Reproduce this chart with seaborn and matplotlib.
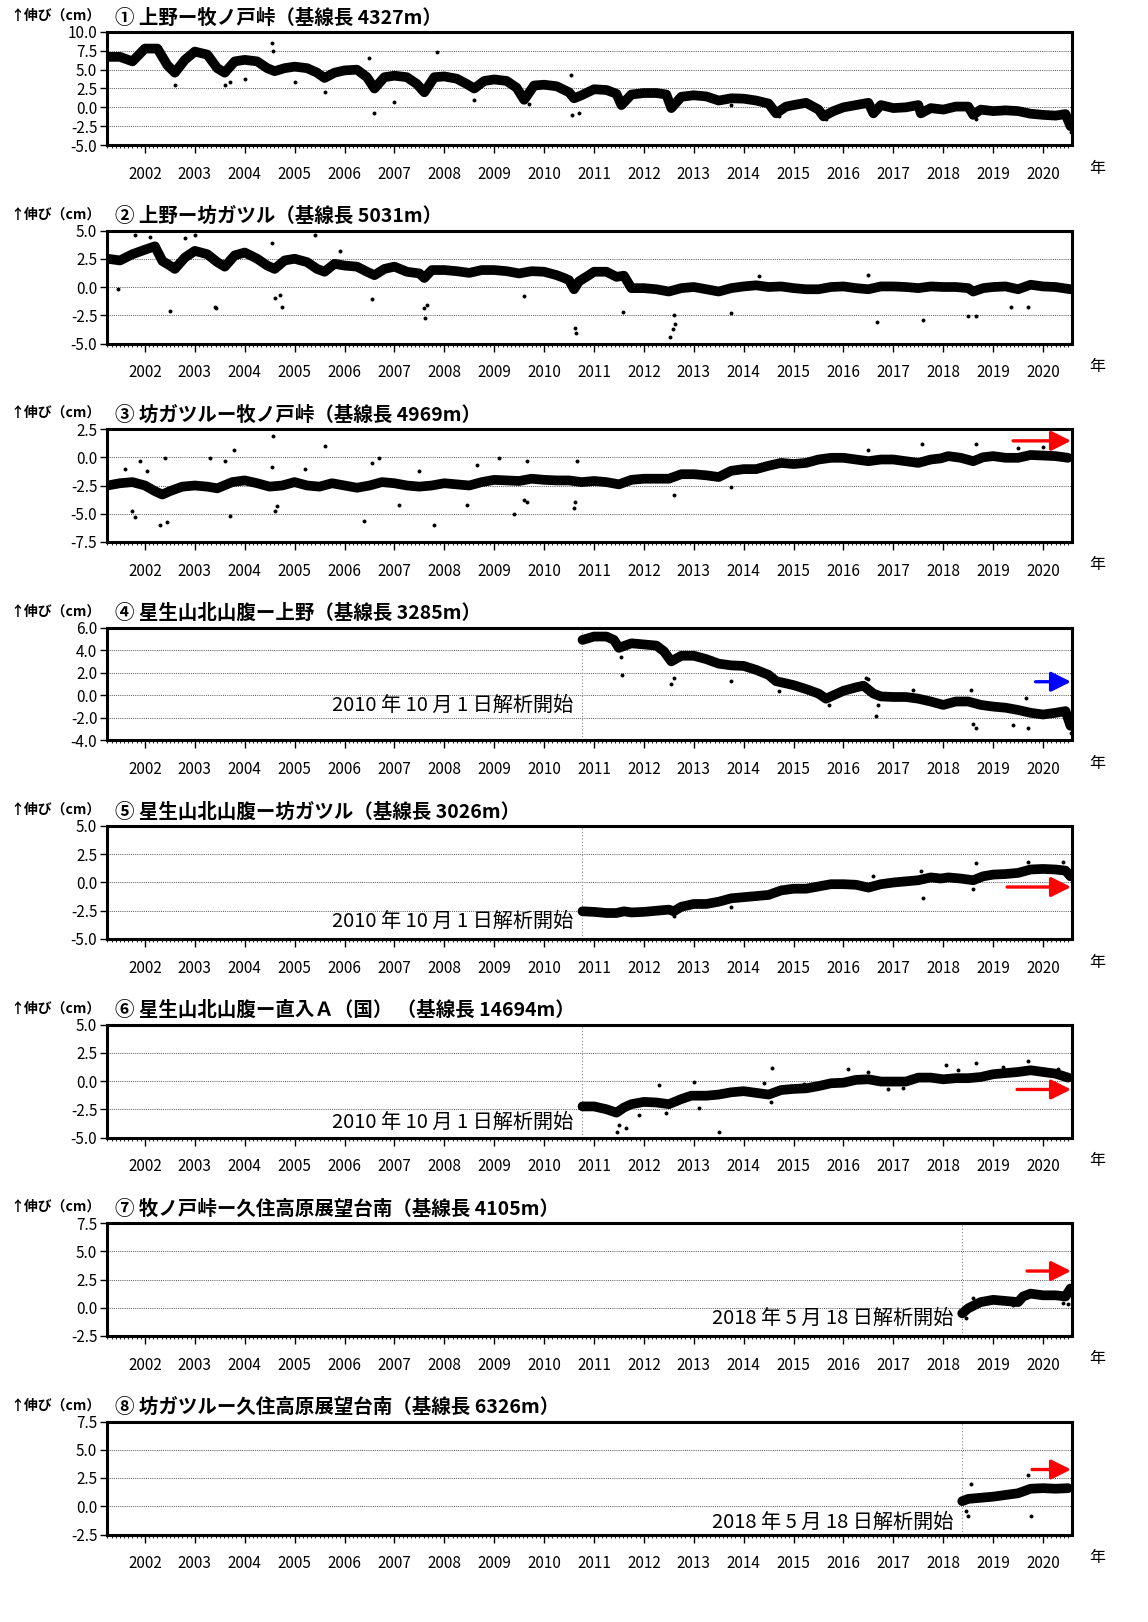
import numpy as np
import pandas as pd
import matplotlib
matplotlib.use("Agg")
import matplotlib.pyplot as plt
from matplotlib.ticker import MultipleLocator, FixedLocator, FormatStrFormatter
import seaborn as sns

sns.set_theme(style="white")
plt.rcParams['font.family'] = ['Noto Sans CJK JP', 'DejaVu Sans']

# ---------------- data (decimal year, extension cm) ----------------
t1 = [2001.25, 2001.5, 2001.75, 2002.0, 2002.25, 2002.45, 2002.6, 2002.8, 2003.0, 2003.25, 2003.45, 2003.6, 2003.8,
      2004.0, 2004.25, 2004.45, 2004.6, 2004.8, 2005.0, 2005.25, 2005.45, 2005.6, 2005.8, 2006.0, 2006.25, 2006.45,
      2006.6, 2006.8, 2007.0, 2007.25, 2007.45, 2007.6, 2007.8, 2008.0, 2008.25, 2008.45, 2008.6, 2008.8, 2009.0,
      2009.25, 2009.45, 2009.6, 2009.8, 2010.0, 2010.25, 2010.5, 2010.6, 2010.75, 2011.0, 2011.25, 2011.45, 2011.55,
      2011.75, 2012.0, 2012.25, 2012.45, 2012.55, 2012.75, 2013.0, 2013.25, 2013.5, 2013.75, 2014.0, 2014.25, 2014.5,
      2014.65, 2014.85, 2015.0, 2015.25, 2015.5, 2015.6, 2015.8, 2016.0, 2016.25, 2016.5, 2016.6, 2016.75, 2017.0,
      2017.25, 2017.5, 2017.55, 2017.75, 2018.0, 2018.25, 2018.5, 2018.6, 2018.75, 2019.0, 2019.25, 2019.5, 2019.75,
      2020.0, 2020.25, 2020.45, 2020.55]
v1 = [6.7, 6.7, 6.1, 7.8, 7.8, 5.6, 4.6, 6.3, 7.4, 7.0, 5.2, 4.6, 6.1,
      6.3, 6.1, 5.2, 4.8, 5.2, 5.4, 5.2, 4.6, 3.9, 4.6, 4.9, 5.0, 4.0,
      2.5, 4.0, 4.2, 4.0, 3.1, 2.0, 4.0, 4.1, 3.8, 3.1, 2.5, 3.5, 3.7,
      3.5, 2.6, 1.0, 2.9, 3.0, 2.8, 2.0, 1.2, 1.6, 2.4, 2.3, 1.8, 0.3,
      1.7, 1.9, 1.9, 1.7, -0.1, 1.4, 1.6, 1.45, 0.9, 1.2, 1.15, 0.9, 0.5,
      -0.8, 0.1, 0.3, 0.6, -0.3, -1.2, -0.5, 0.0, 0.3, 0.6, -0.8, 0.3, -0.1,
      0.0, 0.3, -0.8, -0.1, -0.3, 0.1, 0.1, -1.0, -0.3, -0.5, -0.4, -0.5, -0.85,
      -1.0, -1.1, -0.9, -2.5]
o1_t = [2004.55, 2004.56, 2007.85, 2006.5, 2006.6, 2007.0, 2010.55, 2010.7, 2010.54, 2003.6, 2004.0, 2005.0,
        2005.6, 2008.6, 2009.7, 2002.6, 2003.7, 2013.75, 2014.7, 2015.65, 2018.65, 2020.55]
o1_v = [8.6, 7.5, 7.4, 6.5, -0.7, 0.7, -1.0, -0.8, 4.3, 3.0, 3.8, 3.3,
        2.0, 1.0, 0.5, 3.0, 3.4, 0.3, -1.2, -1.6, -1.5, -3.3]

t2 = [2001.25, 2001.5, 2001.75, 2002.0, 2002.2, 2002.35, 2002.5, 2002.6, 2002.8, 2003.0, 2003.25, 2003.45, 2003.6,
      2003.8, 2004.0, 2004.25, 2004.45, 2004.6, 2004.8, 2005.0, 2005.25, 2005.45, 2005.6, 2005.8, 2006.0, 2006.25,
      2006.45, 2006.6, 2006.8, 2007.0, 2007.25, 2007.5, 2007.6, 2007.75, 2008.0, 2008.25, 2008.5, 2008.75, 2009.0,
      2009.25, 2009.5, 2009.75, 2010.0, 2010.25, 2010.4, 2010.5, 2010.6, 2010.7, 2010.9, 2011.0, 2011.25, 2011.45,
      2011.6, 2011.75, 2012.0, 2012.25, 2012.5, 2012.75, 2013.0, 2013.25, 2013.5, 2013.75, 2014.0, 2014.25, 2014.5,
      2014.75, 2015.0, 2015.25, 2015.5, 2015.75, 2016.0, 2016.25, 2016.5, 2016.75, 2017.0, 2017.25, 2017.5, 2017.75,
      2018.0, 2018.25, 2018.5, 2018.6, 2018.8, 2019.0, 2019.25, 2019.5, 2019.75, 2020.0, 2020.25, 2020.55]
v2 = [2.5, 2.35, 2.9, 3.3, 3.6, 2.3, 1.9, 1.6, 2.6, 3.2, 2.9, 2.2, 1.8,
      2.8, 3.05, 2.5, 1.9, 1.6, 2.35, 2.5, 2.2, 1.6, 1.35, 2.05, 1.9, 1.8,
      1.35, 1.05, 1.6, 1.8, 1.35, 1.2, 0.8, 1.5, 1.5, 1.4, 1.25, 1.5, 1.5,
      1.4, 1.2, 1.4, 1.35, 1.05, 0.8, 0.6, -0.2, 0.5, 1.05, 1.35, 1.35, 0.9,
      1.0, -0.1, -0.1, -0.2, -0.4, -0.1, 0.0, -0.2, -0.4, -0.1, 0.05, 0.15, 0.0,
      0.05, -0.1, -0.2, -0.2, 0.0, 0.05, -0.1, -0.2, 0.05, 0.05, 0.0, -0.1, 0.05,
      0.0, 0.0, -0.1, -0.4, -0.1, 0.0, 0.05, -0.2, 0.2, 0.05, 0.0, -0.2]
o2_t = [2001.47, 2002.5, 2003.4, 2003.42, 2004.75, 2004.6, 2004.7, 2006.55, 2007.6, 2007.62, 2007.65, 2009.6,
        2010.64, 2010.62, 2011.58, 2012.53, 2012.59, 2012.63, 2012.61, 2013.75, 2016.67, 2017.6, 2018.5,
        2018.65, 2019.35, 2019.7, 2001.8, 2002.1, 2003.0, 2005.4, 2004.55, 2002.8, 2005.9, 2014.3, 2016.5]
o2_v = [-0.2, -2.1, -1.8, -1.9, -1.8, -1.0, -0.7, -1.1, -1.9, -2.7, -1.6, -0.8,
        -4.1, -3.6, -2.2, -4.4, -3.7, -3.3, -2.5, -2.3, -3.1, -2.9, -2.6,
        -2.6, -1.8, -1.8, 4.6, 4.4, 4.6, 4.6, 3.9, 4.3, 3.2, 1.0, 1.1]

t3 = [2001.25, 2001.5, 2001.75, 2002.0, 2002.2, 2002.35, 2002.5, 2002.75, 2003.0, 2003.25, 2003.45, 2003.75,
      2004.0, 2004.25, 2004.5, 2004.75, 2005.0, 2005.25, 2005.5, 2005.75, 2006.0, 2006.25, 2006.5, 2006.75,
      2007.0, 2007.25, 2007.5, 2007.75, 2008.0, 2008.25, 2008.5, 2008.75, 2009.0, 2009.25, 2009.5, 2009.75,
      2010.0, 2010.25, 2010.5, 2010.75, 2011.0, 2011.25, 2011.5, 2011.75, 2012.0, 2012.25, 2012.5, 2012.75,
      2013.0, 2013.25, 2013.5, 2013.75, 2014.0, 2014.25, 2014.5, 2014.75, 2015.0, 2015.25, 2015.5, 2015.75,
      2016.0, 2016.25, 2016.5, 2016.75, 2017.0, 2017.25, 2017.5, 2017.75, 2017.95, 2018.1, 2018.35, 2018.6,
      2018.8, 2019.0, 2019.25, 2019.5, 2019.75, 2020.0, 2020.25, 2020.5]
v3 = [-2.5, -2.3, -2.2, -2.5, -3.0, -3.3, -3.0, -2.6, -2.5, -2.6, -2.75, -2.2,
      -2.05, -2.3, -2.6, -2.5, -2.2, -2.5, -2.6, -2.3, -2.5, -2.7, -2.5, -2.2,
      -2.3, -2.5, -2.6, -2.5, -2.3, -2.4, -2.5, -2.2, -2.0, -2.05, -2.1, -1.9,
      -2.0, -2.05, -2.05, -2.2, -2.1, -2.2, -2.4, -2.0, -1.9, -1.9, -1.9, -1.5,
      -1.5, -1.6, -1.75, -1.2, -1.05, -1.05, -0.75, -0.5, -0.6, -0.5, -0.2, -0.05,
      -0.05, -0.2, -0.35, -0.2, -0.2, -0.35, -0.5, -0.2, -0.1, 0.1, -0.05, -0.35,
      0.0, 0.1, -0.05, -0.05, 0.2, 0.15, 0.1, -0.05]
o3_t = [2004.57, 2005.6, 2003.79, 2001.9, 2002.4, 2003.3, 2003.6, 2004.55, 2006.55, 2006.7, 2007.5, 2008.65,
        2009.1, 2009.65, 2010.65, 2002.3, 2002.45, 2001.8, 2001.75, 2003.7, 2004.6, 2006.4, 2007.8, 2007.1,
        2008.45, 2009.4, 2009.6, 2009.65, 2010.6, 2010.62, 2017.58, 2018.65, 2016.5, 2019.5, 2020.0, 2012.6,
        2013.75, 2002.05, 2004.65, 2005.2, 2001.6]
o3_v = [1.9, 1.0, 0.6, -0.3, -0.1, -0.1, -0.3, -0.9, -0.5, -0.1, -1.2, -0.7,
        -0.1, -0.3, -0.3, -6.0, -5.7, -5.3, -4.8, -5.2, -4.8, -5.6, -6.0, -4.2,
        -4.2, -5.0, -3.8, -4.0, -4.5, -4.0, 1.2, 1.2, 0.6, 0.8, 0.9, -3.3,
        -2.6, -1.2, -4.3, -1.0, -1.0]

t4 = [2010.77, 2011.0, 2011.25, 2011.4, 2011.5, 2011.75, 2012.0, 2012.25, 2012.4, 2012.55, 2012.75,
      2013.0, 2013.25, 2013.5, 2013.75, 2014.0, 2014.25, 2014.5, 2014.65, 2014.8, 2015.0, 2015.25, 2015.5,
      2015.65, 2015.8, 2016.0, 2016.25, 2016.4, 2016.6, 2016.75, 2017.0, 2017.25, 2017.5, 2017.75, 2018.0,
      2018.25, 2018.5, 2018.75, 2019.0, 2019.25, 2019.5, 2019.75, 2020.0, 2020.25, 2020.45, 2020.55]
v4 = [4.9, 5.2, 5.2, 4.9, 4.2, 4.6, 4.5, 4.4, 3.9, 3.0, 3.5,
      3.5, 3.2, 2.8, 2.65, 2.6, 2.25, 1.8, 1.25, 1.1, 0.9, 0.55, 0.15,
      -0.3, 0.0, 0.4, 0.7, 0.85, 0.15, -0.1, -0.15, -0.15, -0.3, -0.55, -0.85,
      -0.55, -0.55, -0.85, -1.0, -1.1, -1.3, -1.55, -1.7, -1.55, -1.4, -2.7]
o4_t = [2011.57, 2011.55, 2012.55, 2012.6, 2013.75, 2016.45, 2016.5, 2016.7, 2016.65, 2018.6, 2018.65,
        2019.4, 2019.7, 2020.55, 2018.55, 2017.4, 2019.65, 2014.7, 2015.7]
o4_v = [1.8, 3.4, 1.0, 1.55, 1.25, 1.5, 1.4, -0.9, -1.8, -2.5, -2.9,
        -2.6, -2.9, -3.3, 0.5, 0.5, -0.2, 0.4, -0.9]

t5 = [2010.77, 2011.0, 2011.25, 2011.45, 2011.6, 2011.75, 2012.0, 2012.25, 2012.5, 2012.6, 2012.75,
      2013.0, 2013.25, 2013.5, 2013.75, 2014.0, 2014.25, 2014.5, 2014.75, 2015.0, 2015.25, 2015.5, 2015.75,
      2016.0, 2016.25, 2016.5, 2016.75, 2017.0, 2017.25, 2017.5, 2017.75, 2017.95, 2018.1, 2018.35, 2018.6,
      2018.8, 2019.0, 2019.25, 2019.5, 2019.75, 2020.0, 2020.25, 2020.45, 2020.55]
v5 = [-2.55, -2.6, -2.7, -2.7, -2.55, -2.65, -2.6, -2.5, -2.4, -2.55, -2.15,
      -1.9, -1.9, -1.7, -1.4, -1.3, -1.2, -1.1, -0.7, -0.55, -0.55, -0.35, -0.15,
      -0.15, -0.2, -0.45, -0.15, 0.0, 0.1, 0.2, 0.45, 0.35, 0.45, 0.35, 0.2,
      0.55, 0.7, 0.75, 0.85, 1.15, 1.2, 1.15, 1.05, 0.55]
o5_t = [2017.6, 2018.6, 2018.65, 2019.7, 2020.4, 2012.6, 2013.75, 2016.6, 2017.55]
o5_v = [-1.4, -0.6, 1.7, 1.8, 1.8, -3.0, -2.2, 0.6, 1.0]

t6 = [2010.77, 2011.0, 2011.25, 2011.45, 2011.6, 2011.75, 2012.0, 2012.25, 2012.5, 2012.75, 2012.95,
      2013.25, 2013.5, 2013.75, 2014.0, 2014.25, 2014.5, 2014.75, 2015.0, 2015.25, 2015.5, 2015.75,
      2016.0, 2016.25, 2016.5, 2016.75, 2017.0, 2017.25, 2017.5, 2017.75, 2018.0, 2018.25, 2018.5,
      2018.75, 2019.0, 2019.25, 2019.5, 2019.75, 2020.0, 2020.25, 2020.5]
v6 = [-2.25, -2.25, -2.5, -2.8, -2.35, -2.05, -1.85, -1.9, -2.05, -1.6, -1.3,
      -1.3, -1.2, -1.0, -0.9, -1.05, -1.2, -0.8, -0.7, -0.65, -0.45, -0.2,
      -0.15, 0.1, 0.15, -0.05, -0.05, -0.05, 0.3, 0.3, 0.15, 0.25, 0.25,
      0.35, 0.6, 0.7, 0.8, 0.95, 0.8, 0.65, 0.3]
o6_t = [2011.46, 2011.5, 2011.65, 2013.5, 2014.57, 2016.1, 2018.06, 2018.65, 2019.7, 2012.3, 2013.0,
        2011.9, 2012.45, 2013.1, 2014.4, 2014.55, 2015.2, 2016.5, 2017.2, 2018.3, 2019.2, 2020.3, 2016.9]
o6_v = [-4.5, -3.9, -4.2, -4.5, 1.15, 1.1, 1.4, 1.55, 1.75, -0.35, -0.1,
        -3.0, -2.8, -2.4, -0.2, -1.9, -0.3, 0.8, -0.6, 1.0, 1.2, 1.1, -0.7]

t7 = [2018.38, 2018.5, 2018.75, 2019.0, 2019.25, 2019.5, 2019.6, 2019.75, 2020.0, 2020.25, 2020.45, 2020.55]
v7 = [-0.5, -0.05, 0.5, 0.7, 0.6, 0.5, 1.0, 1.25, 1.1, 1.1, 1.0, 1.7]
o7_t = [2018.45, 2018.6, 2019.4, 2020.4, 2020.5]
o7_v = [-0.9, 0.9, 0.2, 0.4, 0.3]

t8 = [2018.38, 2018.5, 2018.75, 2019.0, 2019.25, 2019.5, 2019.75, 2020.0, 2020.25, 2020.5]
v8 = [0.45, 0.65, 0.75, 0.85, 1.0, 1.15, 1.55, 1.6, 1.55, 1.6]
o8_t = [2018.5, 2019.75, 2019.7, 2018.55, 2018.45]
o8_v = [-0.85, -0.9, 2.8, 2.0, -0.4]

titles = ["① 上野ー牧ノ戸峠（基線長 4327m）",
          "② 上野ー坊ガツル（基線長 5031m）",
          "③ 坊ガツルー牧ノ戸峠（基線長 4969m）",
          "④ 星生山北山腹ー上野（基線長 3285m）",
          "⑤ 星生山北山腹ー坊ガツル（基線長 3026m）",
          "⑥ 星生山北山腹ー直入Ａ（国） （基線長 14694m）",
          "⑦ 牧ノ戸峠ー久住高原展望台南（基線長 4105m）",
          "⑧ 坊ガツルー久住高原展望台南（基線長 6326m）"]
ylims = [(-5, 10), (-5, 5), (-7.5, 2.5), (-4, 6), (-5, 5), (-5, 5), (-2.5, 7.5), (-2.5, 7.5)]
ysteps = [2.5, 2.5, 2.5, 2.0, 2.5, 2.5, 2.5, 2.5]
years = list(range(2002, 2021))
start_lbl = [None, None, None, "2010 年 10 月 1 日解析開始", "2010 年 10 月 1 日解析開始",
             "2010 年 10 月 1 日解析開始", "2018 年 5 月 18 日解析開始", "2018 年 5 月 18 日解析開始"]
start_t = [None, None, None, 2010.75, 2010.75, 2010.75, 2018.38, 2018.38]
start_lbl_y = [None, None, None, -0.9, -3.4, -3.7, -0.9, -1.4]
arrow_color = [None, None, 'red', 'blue', 'red', 'red', 'red', 'red']
arrow_y = [None, None, 1.45, 1.2, -0.4, -0.75, 3.25, 3.25]
arrow_x0 = [None, None, 2019.4, 2019.85, 2019.28, 2019.48, 2019.68, 2019.78]

series = [(t1, v1, o1_t, o1_v), (t2, v2, o2_t, o2_v), (t3, v3, o3_t, o3_v), (t4, v4, o4_t, o4_v),
          (t5, v5, o5_t, o5_v), (t6, v6, o6_t, o6_v), (t7, v7, o7_t, o7_v), (t8, v8, o8_t, o8_v)]

# ---------------- figure ----------------
W, H = 1148, 1622
fig = plt.figure(figsize=(W / 100, H / 100), dpi=100)
XL, XR = 2001.24, 2020.58
ax_left, ax_w, ax_h = 107, 965, 113

for i in range(8):
    top = 32 + 198.5 * i
    bottom = top + ax_h
    ax = fig.add_axes([ax_left / W, 1 - bottom / H, ax_w / W, ax_h / H])
    t, v, ot, ov = series[i]
    band = pd.DataFrame({'t': t, 'v': v})
    outl = pd.DataFrame({'t': ot, 'v': ov})
    sns.lineplot(data=band, x='t', y='v', ax=ax, color='black', lw=7.0, estimator=None, sort=False,
                 solid_joinstyle='round', solid_capstyle='round', zorder=3)
    sns.scatterplot(data=outl, x='t', y='v', ax=ax, color='black', s=8, linewidth=0, zorder=3)

    lo, hi = ylims[i]
    ax.set_xlim(XL, XR)
    ax.set_ylim(lo, hi)
    yt = list(np.arange(lo, hi + 1e-9, ysteps[i]))
    ax.yaxis.set_major_locator(FixedLocator(yt))
    ax.yaxis.set_major_formatter(FormatStrFormatter('%.1f'))
    ax.xaxis.set_major_locator(FixedLocator(years))
    ax.xaxis.set_major_formatter(FormatStrFormatter('%d'))
    ax.xaxis.set_minor_locator(MultipleLocator(1 / 12))
    for yv in yt[1:-1]:
        ax.axhline(yv, color='#555555', lw=0.7, ls=(0, (1, 1.2)), zorder=1)
    ax.set_xlabel('')
    ax.set_ylabel('')
    for sp in ax.spines.values():
        sp.set_linewidth(2.2)
        sp.set_color('black')
    ax.tick_params(axis='x', which='major', direction='out', length=6, width=1.0, pad=9,
                   labelsize=11, colors='black', bottom=True)
    ax.tick_params(axis='x', which='minor', direction='out', length=2.2, width=0.8, bottom=True)
    ax.tick_params(axis='y', which='major', direction='out', length=5, width=1.0, pad=2,
                   labelsize=11, colors='black', left=True)
    ax.grid(False)

    if start_t[i] is not None:
        ax.axvline(start_t[i], color='#888888', lw=0.8, ls=(0, (1, 2)), zorder=1)
        ax.text(start_t[i] - 0.17, start_lbl_y[i], start_lbl[i], ha='right', va='center',
                fontsize=14.5, color='black', zorder=4)
    if arrow_color[i] is not None:
        ax.annotate('', xy=(XR - 0.02, arrow_y[i]), xytext=(arrow_x0[i], arrow_y[i]),
                    arrowprops=dict(arrowstyle='-|>,head_length=1.0,head_width=0.5',
                                    color=arrow_color[i], lw=2.4, shrinkA=0, shrinkB=0),
                    zorder=5)

    fig.text(10 / W, 1 - (top - 16) / H, '↑伸び（cm）', fontsize=10, ha='left', va='center',
             color='black', fontweight='bold')
    fig.text(115 / W, 1 - (top - 14) / H, titles[i], fontsize=14, ha='left', va='center',
             color='black', fontweight='bold')
    fig.text(1097 / W, 1 - (bottom + 23) / H, '年', fontsize=11.5, ha='center', va='center',
             color='black')

fig.savefig('out.png', dpi=100, facecolor='white')
